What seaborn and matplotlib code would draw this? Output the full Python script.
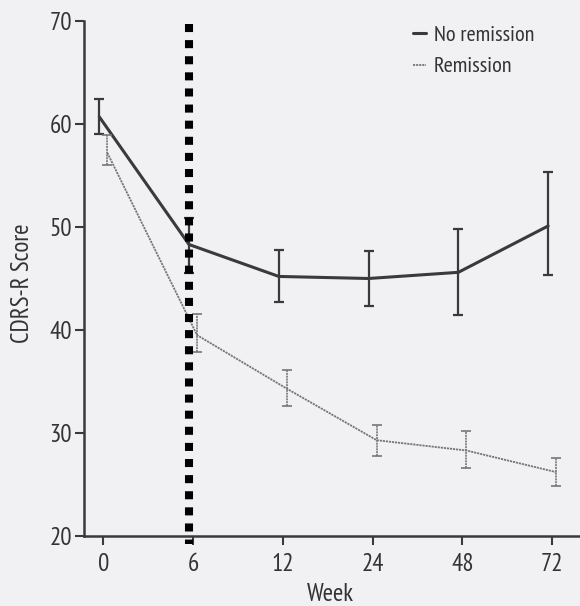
import matplotlib
matplotlib.use("Agg")
import matplotlib.pyplot as plt
from matplotlib import font_manager as fm
import numpy as np
import pandas as pd
import seaborn as sns

# CDRS-R score by week, with error-bar bounds
weeks = ["0", "6", "12", "24", "48", "72"]
no_rem_mean = [60.7, 48.3, 45.2, 45.0, 45.6, 50.1]
no_rem_lo = [59.0, 45.5, 42.7, 42.3, 41.5, 45.3]
no_rem_hi = [62.4, 50.9, 47.8, 47.7, 49.8, 55.3]
rem_mean = [57.2, 39.5, 34.3, 29.3, 28.3, 26.2]
rem_lo = [56.0, 37.9, 32.6, 27.8, 26.6, 24.9]
rem_hi = [58.9, 41.6, 36.1, 30.8, 30.2, 27.6]
series_labels = ["No remission", "Remission"]
y_ticks = [20, 30, 40, 50, 60, 70]
cutoff_x = 0.95  # dotted marker just before week 6

sns.set_theme(style="ticks")

# narrow humanist sans, regular weight
available = {f.name for f in fm.fontManager.ttflist}
family = "Open Sans"
for cand in ["PT Sans Narrow", "Asap Condensed", "Roboto Condensed"]:
    if cand in available:
        family = cand
        break
plt.rcParams["font.family"] = [family, "DejaVu Sans"]
plt.rcParams["font.weight"] = "normal"

bg = "#f1f1f4"
ink = "#3a3a3a"
txt = "#333333"
grey = "#767676"

fig = plt.figure(figsize=(5.8, 6.06), dpi=100, facecolor=bg)
ax = fig.add_axes([84 / 580, 70 / 606, 1 - 84 / 580, 515 / 606])
ax.set_facecolor(bg)

pos = np.arange(len(weeks))
dodge = 0.045
df = pd.DataFrame({
    "pos": np.concatenate([pos - dodge, pos + dodge]),
    "score": no_rem_mean + rem_mean,
    "group": [series_labels[0]] * len(weeks) + [series_labels[1]] * len(weeks),
})

sns.lineplot(data=df[df.group == series_labels[0]], x="pos", y="score",
             color=ink, lw=2.2, ax=ax, label=series_labels[0])
sns.lineplot(data=df[df.group == series_labels[1]], x="pos", y="score",
             color=grey, lw=1.3, ax=ax, label=series_labels[1],
             linestyle=(0, (1.2, 0.5)))

m = np.array(no_rem_mean)
ax.errorbar(pos - dodge, m, yerr=[m - np.array(no_rem_lo), np.array(no_rem_hi) - m],
            fmt="none", ecolor=ink, elinewidth=1.6, capsize=3.6, capthick=1.6)
r = np.array(rem_mean)
eb2 = ax.errorbar(pos + dodge, r, yerr=[r - np.array(rem_lo), np.array(rem_hi) - r],
                  fmt="none", ecolor=grey, elinewidth=1.2, capsize=3.6, capthick=1.2)
for ln in eb2[2]:
    ln.set_linestyle((0, (1.2, 0.5)))

# vertical square-dotted marker
ax.plot([cutoff_x, cutoff_x], [69.7, 19.2], color="black", lw=5.8,
        linestyle=(0, (1, 1)), dash_capstyle="butt", clip_on=False, zorder=5)

ax.set_xlim(-0.215, 5.31)
ax.set_ylim(20, 70)
ax.set_xticks(pos)
ax.set_xticklabels(weeks)
ax.set_yticks(y_ticks)

sns.despine(ax=ax)
for s in ("left", "bottom"):
    ax.spines[s].set_color(ink)
    ax.spines[s].set_linewidth(1.8)
ax.tick_params(axis="both", colors=ink, labelcolor=txt, labelsize=18,
               length=6.5, width=1.5)
ax.tick_params(axis="x", pad=6)
ax.tick_params(axis="y", pad=2)

ax.set_xlabel("Week", fontsize=18, color=txt)
ax.set_ylabel("CDRS-R Score", fontsize=18, color=txt)
ax.xaxis.set_label_coords(0.496, -0.092)
ax.yaxis.set_label_coords(-0.1, 0.49)

leg = ax.legend(loc="upper left", bbox_to_anchor=(413 / 580, 1 - 25 / 606),
                bbox_transform=fig.transFigure, frameon=False, fontsize=16,
                handlelength=0.6, handletextpad=0.35, labelspacing=0.55,
                borderpad=0, borderaxespad=0)
for t in leg.get_texts():
    t.set_color(txt)

fig.savefig("out.png", dpi=100, facecolor=bg)
